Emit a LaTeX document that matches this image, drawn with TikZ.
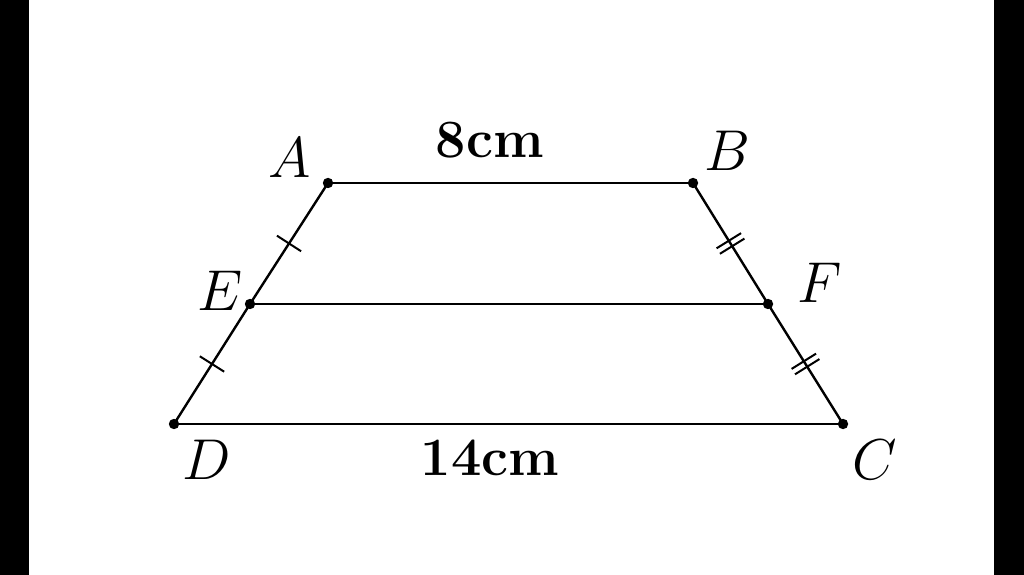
\documentclass[tikz,border=0pt]{standalone}
\usetikzlibrary{decorations.markings}
\begin{document}
\begin{tikzpicture}[x=0.25pt,y=-0.25pt,line width=0.6pt,
  lbl/.style={font=\fontsize{13.5}{16}\selectfont},
  onetick/.style={postaction={decorate},decoration={markings,mark=at position 0.5 with {\draw[line width=0.5pt] (0,-3.6pt)--(0,3.6pt);}}},
  twotick/.style={postaction={decorate},decoration={markings,mark=at position 0.5 with {\draw[line width=0.5pt] (-0.8pt,-3.6pt)--(-0.8pt,3.6pt) (0.8pt,-3.6pt)--(0.8pt,3.6pt);}}},
  dot/.style={circle,fill=black,inner sep=0pt,minimum size=2.6pt}]
\useasboundingbox (0,0) rectangle (1024,575);
\fill[black] (0,0) rectangle (29,575);
\fill[black] (994,0) rectangle (1024,575);
\node[dot] (A) at (328,183) {};
\node[dot] (B) at (693,183) {};
\node[dot] (E) at (250,304) {};
\node[dot] (F) at (768,304) {};
\node[dot] (D) at (174,424) {};
\node[dot] (C) at (843,424) {};
\draw (A.center) -- (B.center);
\draw (E.center) -- (F.center);
\draw (D.center) -- (C.center);
\draw[onetick] (A.center) -- (E.center);
\draw[onetick] (E.center) -- (D.center);
\draw[twotick] (B.center) -- (F.center);
\draw[twotick] (F.center) -- (C.center);
\node[lbl] (lA) at (290,158) {$A$};
\node[lbl] (lB) at (727,151) {$B$};
\node[lbl] (lE) at (220,291) {$E$};
\node[lbl] (lF) at (820,283) {$F$};
\node[lbl] (lD) at (207,460) {$D$};
\node[lbl] (lC) at (875,460) {$C$};
\node[lbl] (top) at (490,140) {\textbf{8cm}};
\node[lbl] (bot) at (490,458) {\textbf{14cm}};
\end{tikzpicture}
\end{document}
